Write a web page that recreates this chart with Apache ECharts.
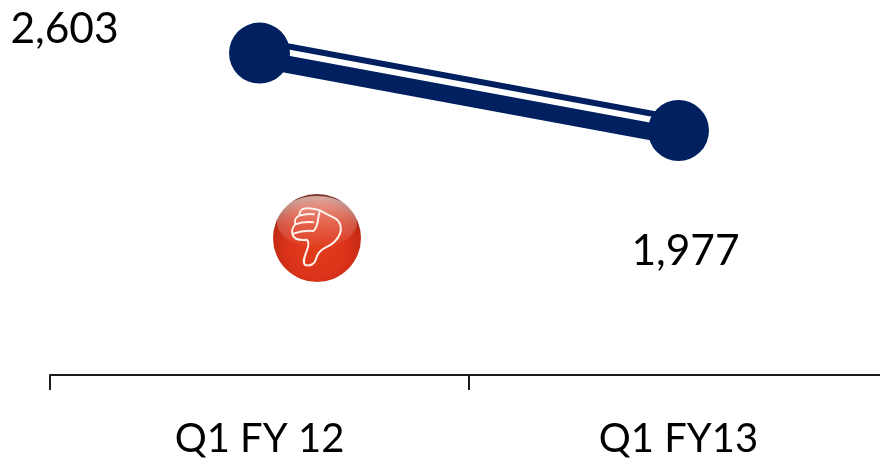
<!DOCTYPE html>
<html><head><meta charset="utf-8">
<style>html,body{margin:0;padding:0;background:#fff}#c{width:880px;height:458px}</style>
<script src="https://cdn.jsdelivr.net/npm/echarts@6/dist/echarts.min.js"></script></head>
<body><div id="c"></div>
<script>
const categories = ['Q1 FY 12', 'Q1 FY13'];
const values = [2603, 1977];
const labels = ['2,603', '1,977'];
const NAVY = '#002060';
const font = 'Lato, "Open Sans", sans-serif';
const labelOffsets = [[-195, -24], [7, 121]];
const chart = echarts.init(document.getElementById('c'), null, {renderer:'canvas'});
const thumb = 'M128 72 C140 68 165 70 180 76 C196 84 212 94 226 100 C242 110 246 130 240 146 C232 166 215 180 196 188 C180 196 172 206 168 222 C164 238 150 244 136 240 C126 232 134 214 140 198 C146 184 148 170 140 164 C124 166 104 164 98 150 C94 138 98 126 106 118 C102 106 108 96 118 92 C118 84 122 76 128 72 Z M118 92 C130 88 148 86 164 88 M106 118 C122 112 144 110 162 112 M100 146 C116 140 140 136 160 138 C168 132 172 120 174 104 C176 92 178 82 180 76';
echarts.graphic.registerShape('thumbShape', echarts.graphic.extendPath(thumb, {}));
chart.setOption({
  animation:false,
  backgroundColor:'#fff',
  grid:[
    {left:50, width:838, top:4, height:371, containLabel:false, outerBoundsMode:'none'},
    {left:50, width:838, top:-1.8, height:371, containLabel:false, outerBoundsMode:'none'}
  ],
  xAxis:[
    {type:'category', gridIndex:0, data:categories,
     axisLine:{show:true, lineStyle:{color:'#1a1a1a', width:2}},
     axisTick:{show:true, length:15, alignWithLabel:false, lineStyle:{color:'#1a1a1a', width:2}},
     axisLabel:{color:'#000', fontFamily:font, fontSize:40, margin:42, interval:0, lineHeight:44}},
    {type:'category', gridIndex:1, data:categories, show:false}
  ],
  yAxis:[
    {type:'value', gridIndex:0, min:0, max:3000, show:false, splitLine:{show:false}},
    {type:'value', gridIndex:1, min:0, max:3000, show:false, splitLine:{show:false}}
  ],
  series:[
    {type:'line', name:'band', xAxisIndex:0, yAxisIndex:0, data:values, symbol:'none', z:2,
     lineStyle:{color:NAVY, width:29.5, cap:'butt'}, clip:false},
    {type:'line', name:'stripe', xAxisIndex:1, yAxisIndex:1, data:values, symbol:'none', z:3,
     lineStyle:{color:'#fff', width:6, cap:'butt'}, clip:false},
    {type:'line', name:'points', xAxisIndex:0, yAxisIndex:0, z:4, clip:false,
     data:values.map((v,i)=>({value:v, label:{offset:labelOffsets[i]}})),
     lineStyle:{opacity:0}, symbol:'circle', symbolSize:61, showSymbol:true, itemStyle:{color:NAVY, opacity:1},
     label:{show:true, position:'inside', color:'#000', fontFamily:font, fontSize:42.5,
       formatter:p=>labels[p.dataIndex]}}
  ],
  graphic:[
    {type:'circle', z:10, shape:{cx:317, cy:238, r:44},
     style:{fill:new echarts.graphic.RadialGradient(0.5,0.62,0.6,[
       {offset:0,color:'#e03c1a'},{offset:0.55,color:'#dc341a'},{offset:0.85,color:'#c42a14'},{offset:1,color:'#7d3528'}])}},
    {type:'ellipse', z:11, shape:{cx:317, cy:222, rx:40, ry:26},
     style:{fill:new echarts.graphic.LinearGradient(0,0,0,1,[
       {offset:0,color:'rgba(255,235,230,0.65)'},{offset:0.55,color:'rgba(255,225,215,0.25)'},{offset:1,color:'rgba(255,255,255,0)'}])}},
    {type:'thumbShape', z:12, x:260, y:185, scaleX:1/3, scaleY:1/3,
     style:{fill:'rgba(0,0,0,0)', stroke:'#fff0ea', lineWidth:6}}
  ]
});
</script></body></html>
